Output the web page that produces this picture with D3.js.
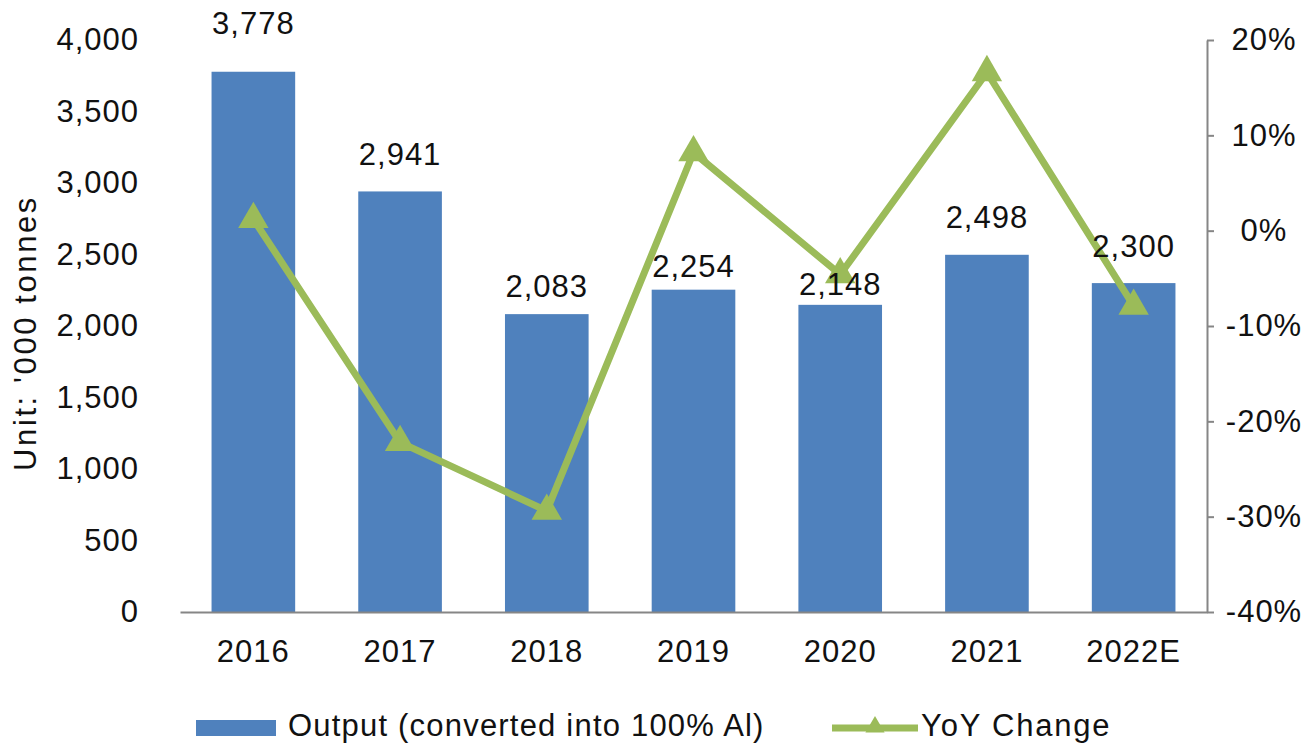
<!DOCTYPE html>
<meta charset="utf-8">
<style>
body { margin: 0; background: #fff; }
text { font-family: "Liberation Sans", Arial, sans-serif; fill: #111; }
.axis text { font-size: 31px; letter-spacing: 1px; }
.axis .domain { stroke: #868686; stroke-width: 2px; }
.axis .tick line { stroke: #868686; stroke-width: 2px; }
</style>
<svg width="1314" height="745"></svg>
<script src="https://cdn.jsdelivr.net/npm/d3@7"></script>
<script>

var years = ["2016", "2017", "2018", "2019", "2020", "2021", "2022E"],
    output = [3778, 2941, 2083, 2254, 2148, 2498, 2300],
    yoy = [0.012, -0.222, -0.294, 0.082, -0.046, 0.166, -0.079],
    leftTicks = [0, 500, 1000, 1500, 2000, 2500, 3000, 3500, 4000],
    rightTicks = [-0.4, -0.3, -0.2, -0.1, 0, 0.1, 0.2];

// how far each value label sits above its bar (hand placed in the original)
var labelLift = [38, 26, 17, 13, 10, 27, 26];

var blue = "#4F81BD", green = "#9BBB59";

var svg = d3.select("svg"),
    plotLeft = 180, plotRight = 1207, plotTop = 40, plotBottom = 612;

var x = d3.scaleBand().domain(years).range([plotLeft, plotRight]).paddingInner(0.43).paddingOuter(0.215),
    y = d3.scaleLinear().domain([0, 4000]).range([plotBottom, plotTop]),
    y2 = d3.scaleLinear().domain([-0.4, 0.2]).range([plotBottom, plotTop]);

// left axis, labels only
svg.append("g")
    .attr("class", "axis")
    .attr("transform", "translate(" + plotLeft + ",0)")
    .call(d3.axisLeft(y).tickValues(leftTicks).tickSize(0).tickPadding(41).tickFormat(d3.format(",")))
    .call(function(g) { g.select(".domain").remove(); });

svg.append("text")
    .attr("transform", "rotate(-90)")
    .attr("x", -333)
    .attr("y", 25)
    .attr("dy", "0.35em")
    .attr("text-anchor", "middle")
    .style("font-size", "31px")
    .style("letter-spacing", "2.6px")
    .text("Unit: '000 tonnes");

// bars
svg.selectAll(".bar")
    .data(output)
  .enter().append("rect")
    .attr("class", "bar")
    .attr("x", function(d, i) { return x(years[i]); })
    .attr("y", function(d) { return y(d); })
    .attr("width", x.bandwidth())
    .attr("height", function(d) { return plotBottom - y(d); })
    .attr("fill", blue);

// bottom axis
svg.append("g")
    .attr("class", "axis")
    .attr("transform", "translate(0," + plotBottom + ")")
    .call(d3.axisBottom(x).tickSize(0).tickPadding(28).tickSizeOuter(0));

// right axis
svg.append("g")
    .attr("class", "axis")
    .attr("transform", "translate(" + plotRight + ",0)")
    .call(d3.axisRight(y2).tickValues(rightTicks).tickSize(7).tickSizeOuter(0)
        .tickFormat(function(d) { return Math.round(d * 100) + "%"; }))
    .call(function(g) {
      g.selectAll(".tick text").attr("x", 57).attr("text-anchor", "middle");
    });

// YoY line
var cx = function(i) { return x(years[i]) + x.bandwidth() / 2; };

var line = d3.line()
    .x(function(d, i) { return cx(i); })
    .y(function(d) { return y2(d); });

svg.append("path")
    .datum(yoy)
    .attr("d", line)
    .attr("fill", "none")
    .attr("stroke", green)
    .attr("stroke-width", 7)
    .attr("stroke-linejoin", "miter");

var tri = d3.symbol().type(d3.symbolTriangle).size(400);

svg.selectAll(".marker")
    .data(yoy)
  .enter().append("path")
    .attr("class", "marker")
    .attr("d", tri)
    .attr("transform", function(d, i) { return "translate(" + cx(i) + "," + y2(d) + ")"; })
    .attr("fill", green);

// value labels
svg.selectAll(".label")
    .data(output)
  .enter().append("text")
    .attr("class", "label")
    .attr("x", function(d, i) { return cx(i); })
    .attr("y", function(d, i) { return y(d) - labelLift[i]; })
    .attr("text-anchor", "middle")
    .style("font-size", "31px")
    .style("letter-spacing", "1px")
    .text(d3.format(","));

// legend
var legend = svg.append("g").style("font-size", "31px").style("letter-spacing", "1.2px");

legend.append("rect")
    .attr("x", 196).attr("y", 720)
    .attr("width", 80).attr("height", 16)
    .attr("fill", blue);

legend.append("text")
    .attr("x", 288).attr("y", 736)
    .text("Output (converted into 100% Al)");

legend.append("line")
    .attr("x1", 832).attr("x2", 918)
    .attr("y1", 728).attr("y2", 728)
    .attr("stroke", green)
    .attr("stroke-width", 7);

legend.append("path")
    .attr("d", d3.symbol().type(d3.symbolTriangle).size(160))
    .attr("transform", "translate(875,727)")
    .attr("fill", green);

legend.append("text")
    .attr("x", 921).attr("y", 736)
    .style("letter-spacing", "1.8px")
    .text("YoY Change");

</script>
